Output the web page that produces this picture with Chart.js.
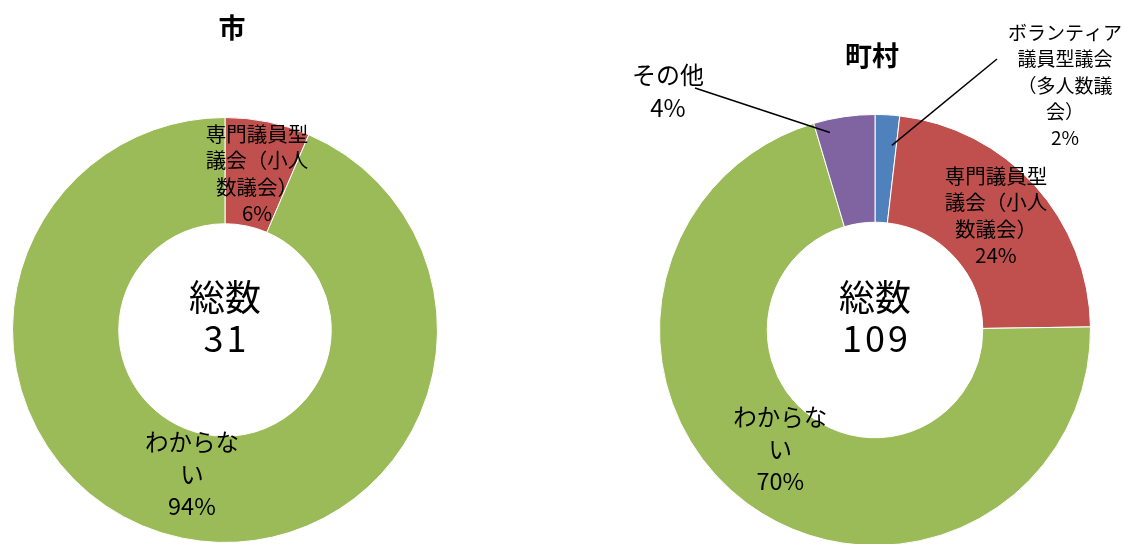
<!DOCTYPE html>
<html lang="ja">
<head>
<meta charset="UTF-8">
<title>市・町村 議会のあり方</title>
<script src="https://cdn.jsdelivr.net/npm/chart.js@4.4.3/dist/chart.umd.min.js"></script>
<style>
  * { margin: 0; padding: 0; }
  body { width: 1122px; height: 544px; overflow: hidden; background: #fff; position: relative; }
  .wrap { position: absolute; top: 0; width: 561px; height: 560px; }
  #cityWrap { left: 0; }
  #townWrap { left: 561px; }
</style>
</head>
<body>
<div class="wrap" id="cityWrap"><canvas id="cityChart" width="561" height="560"></canvas></div>
<div class="wrap" id="townWrap"><canvas id="townChart" width="561" height="560"></canvas></div>

<script>
const FONT = '"Noto Sans CJK JP", "Noto Sans", sans-serif';

// 市
const cityCategories = ['専門議員型議会（小人数議会）', 'わからない'];
const cityValues = [2, 29];
const cityLabels = [['専門議員型', '議会（小人', '数議会）', '6%'], ['わからな', 'い', '94%']];
const cityColors = ['#C0504D', '#9BBB59'];

// 町村
const townCategories = ['ボランティア議員型議会（多人数議会）', '専門議員型議会（小人数議会）', 'わからない', 'その他'];
const townValues = [2, 25, 77, 5];
const townLabels = [['ボランティア', '議員型議会', '（多人数議', '会）', '2%'], ['専門議員型', '議会（小人', '数議会）', '24%'], ['わからな', 'い', '70%'], ['その他', '4%']];
const townColors = ['#4F81BD', '#C0504D', '#9BBB59', '#8064A2'];

// draws title, centre total and the data labels (with leader lines for the outside ones)
const donutText = {
  id: 'donutText',
  afterDatasetsDraw(chart, args, opts) {
    const { ctx } = chart;
    const meta = chart.getDatasetMeta(0);
    const first = meta.data[0];
    const cx = first.x, cy = first.y;
    const total = chart.data.datasets[0].data.reduce((a, b) => a + b, 0);

    ctx.save();
    ctx.fillStyle = '#000';
    ctx.strokeStyle = '#000';
    ctx.textAlign = 'center';
    ctx.textBaseline = 'middle';

    ctx.font = `bold 27px ${FONT}`;
    ctx.fillText(opts.title, opts.titleX, opts.titleY);

    ctx.font = `36px ${FONT}`;
    ctx.fillText('総数', cx, cy - 33);
    ctx.letterSpacing = '3px';
    ctx.fillText(String(total), cx + 1.5, cy + 8);
    ctx.letterSpacing = '0px';

    meta.data.forEach((arc, i) => {
      const lines = opts.labels[i];
      const st = opts.styles[i] || {};
      const size = st.size || 20, lh = st.lh || 26.5;
      let x, y;
      if (st.callout) {
        const c = st.callout;
        const p = arc.getProps(['x', 'y', 'startAngle', 'endAngle', 'outerRadius'], true);
        const a = p.startAngle + (p.endAngle - p.startAngle) * c.t;
        const r = p.outerRadius * c.r;
        ctx.lineWidth = 1.5;
        ctx.beginPath();
        ctx.moveTo(c.fromX, c.fromY);
        ctx.lineTo(p.x + r * Math.cos(a), p.y + r * Math.sin(a));
        ctx.stroke();
        x = c.x; y = c.y;
      } else {
        const pos = arc.tooltipPosition(true);
        x = pos.x + (st.dx || 0);
        y = pos.y + (st.dy || 0);
      }
      ctx.font = `${size}px ${FONT}`;
      const y0 = y - (lines.length - 1) * lh / 2;
      lines.forEach((t, k) => ctx.fillText(t, x, y0 + k * lh));
    });
    ctx.restore();
  }
};

function makeDonut(id, categories, values, colors, padding, text) {
  return new Chart(document.getElementById(id), {
    type: 'doughnut',
    data: {
      labels: categories,
      datasets: [{ data: values, backgroundColor: colors, borderColor: '#fff', borderWidth: 1 }]
    },
    options: {
      responsive: false,
      animation: false,
      events: [],
      cutout: '50%',
      layout: { padding },
      plugins: {
        legend: { display: false },
        tooltip: { enabled: false },
        donutText: text
      }
    },
    plugins: [donutText]
  });
}

makeDonut('cityChart', cityCategories, cityValues, cityColors,
  { left: 12, top: 117, right: 123, bottom: 17 },
  {
    title: '市', titleX: 232, titleY: 28,
    labels: cityLabels,
    styles: [
      { size: 20.5, lh: 26.5, dx: 0, dy: 0 },
      { size: 23.5, lh: 32, dx: -1, dy: -12 }
    ]
  });

makeDonut('townChart', townCategories, townValues, townColors,
  { left: 98, top: 114, right: 31, bottom: 14 },
  {
    title: '町村', titleX: 311, titleY: 56,
    labels: townLabels,
    styles: [
      { size: 19, lh: 26.3, callout: { x: 504, y: 85.5, fromX: 436, fromY: 59, t: 0.79, r: 0.86 } },
      { size: 20.5, lh: 26.5, dx: 1, dy: -6 },
      { size: 23.5, lh: 32, dx: 1, dy: -11 },
      { size: 24, lh: 33, callout: { x: 107, y: 91.5, fromX: 134, fromY: 88, t: 0.22, r: 0.94 } }
    ]
  });
</script>
</body>
</html>
